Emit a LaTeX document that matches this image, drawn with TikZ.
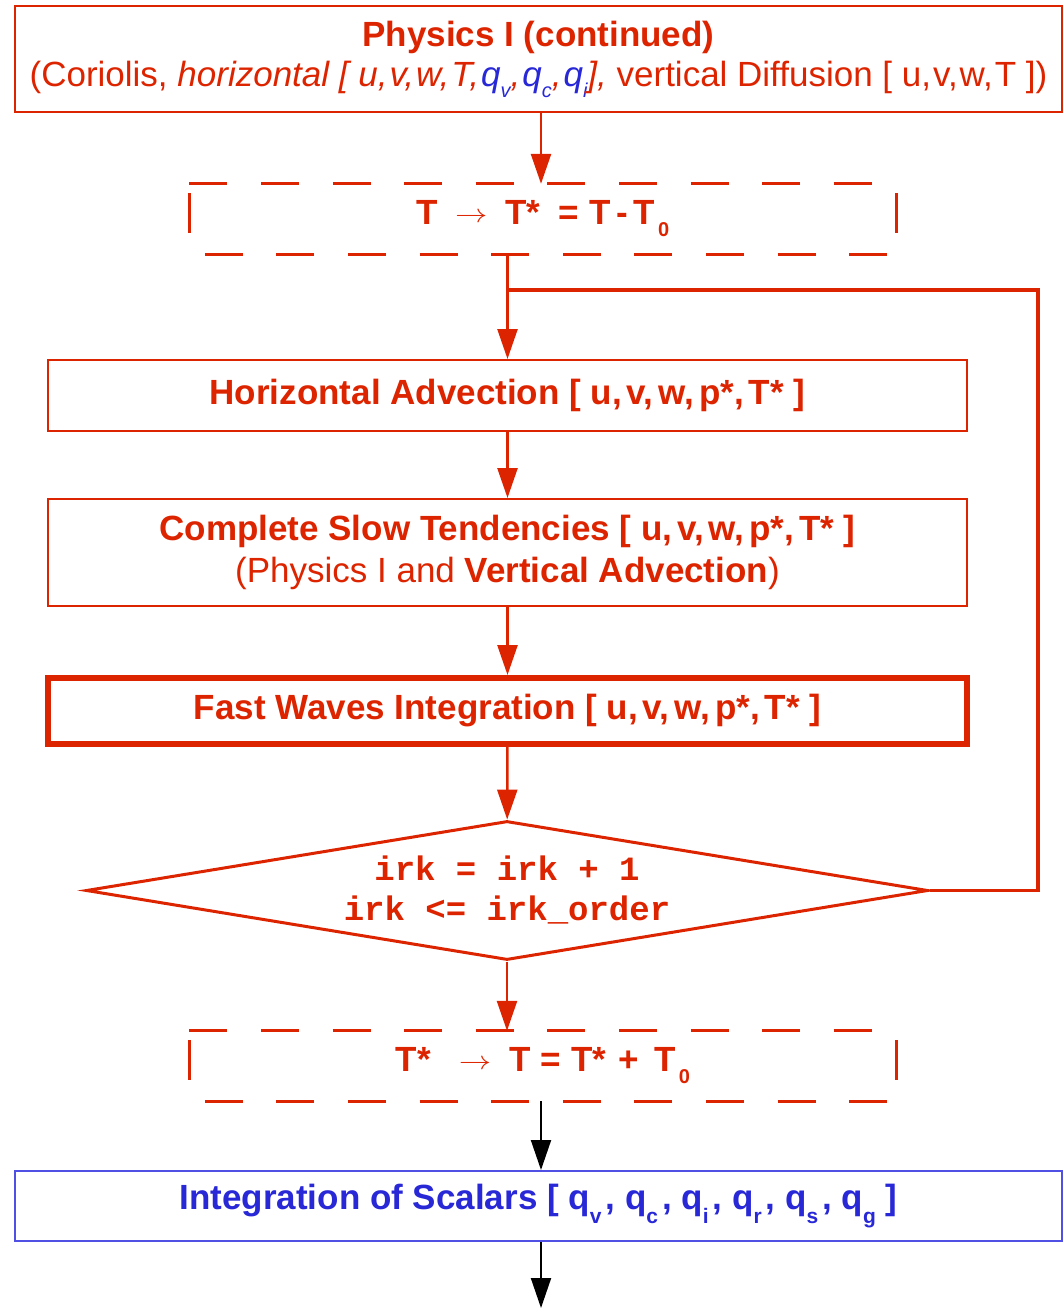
\documentclass[tikz,border=0pt]{standalone}
\usepackage{graphicx}
\usepackage{fontspec}
\setmainfont{Liberation Sans}
\newfontfamily\monof{Liberation Mono}
\usetikzlibrary{arrows.meta,shapes.geometric,calc}
\definecolor{rd}{RGB}{221,36,0}
\definecolor{bl}{RGB}{40,40,215}
\definecolor{blb}{RGB}{80,80,228}
\newcommand\subs[2][-11pt]{\raisebox{#1}{\fontsize{20}{20}\selectfont #2}}
\newcommand\subq[1]{\raisebox{-14pt}{\fontsize{21}{21}\selectfont #1}}
\newcommand\arr{\raisebox{2pt}{\scalebox{1.3}[1.05]{\mdseries$\rightarrow$}}}
\newcommand\cm{,\hspace{5pt}}
\newcommand\cn{,\hspace{2pt}}
\begin{document}
\begin{tikzpicture}[x=1pt,y=-1pt,
  every node/.style={inner sep=0pt, font=\fontsize{35}{40}\selectfont},
  box/.style={draw=rd, line width=2pt, text=rd, align=center, minimum width=919pt},
  conn/.style={draw=rd, line width=2.5pt, -{Triangle[length=30pt,width=20pt]}},
  connk/.style={draw=black, line width=2pt, -{Triangle[length=30pt,width=20pt]}},
  dashline/.style={draw=rd, line width=3pt, dash pattern=on 38pt off 33.6pt},
  sideline/.style={draw=rd, line width=3pt}
]
\useasboundingbox (0,0) rectangle (1064,1311);

% top box
\node[box, minimum width=1047pt, minimum height=106pt] (top) at (538.5,59)
 {\textbf{Physics I (continued)}\\
  (Coriolis, \textit{horizontal [ u\cn v\cn w\cn T\cn\textcolor{bl}{q\subs{v}}\cn\textcolor{bl}{q\subs{c}}\cn\textcolor{bl}{q\subs{i}}],} vertical Diffusion [ u\cn v\cn w\cn T ])};

% dashed box 1
\node[minimum width=707pt, minimum height=70pt, text=rd, font=\fontsize{35}{40}\selectfont\bfseries] (db1) at (543,219)
 {T\hspace{17pt}\arr\hspace{18pt}T*\hspace{18pt}=\hspace{11pt}T\hspace{5pt}-\hspace{6pt}T\hspace{3pt}\subs[-12pt]{0}};
\draw[dashline] (db1.north west) -- (db1.north east);
\draw[dashline] ([xshift=15.5pt]db1.south west) -- (db1.south east);
\draw[sideline] ([yshift=-9pt]db1.north west) -- ([yshift=21pt]db1.south west);
\draw[sideline] ([yshift=-9pt]db1.north east) -- ([yshift=21pt]db1.south east);

% main column
\node[box, minimum height=71pt, font=\fontsize{35}{40}\selectfont\bfseries] (ha) at (507.5,395.5)
 {Horizontal Advection [ u\cm v\cm w\cm p*\cm T* ]};
\node[box, minimum height=107pt, font=\fontsize{35}{42}\selectfont] (cst) at (507.5,552.5)
 {\textbf{Complete Slow Tendencies [ u\cm v\cm w\cm p*\cm T* ]}\\(Physics I and \textbf{Vertical Advection})};
\node[box, line width=6pt, minimum height=66pt, font=\fontsize{35}{40}\selectfont\bfseries] (fw) at (507.5,711)
 {Fast Waves Integration [ u\cm v\cm w\cm p*\cm T* ]};
\node[diamond, draw=rd, line width=3pt, text=rd, align=center, shape aspect=6,
      minimum width=842pt, minimum height=139pt,
      font=\fontsize{34}{40}\selectfont\monof\bfseries] (dia) at (507,890.5)
 {\raisebox{4pt}{irk = irk + 1}\\\raisebox{4pt}{irk <= irk\_order}};

% dashed box 2
\node[minimum width=707pt, minimum height=70pt, text=rd, font=\fontsize{35}{40}\selectfont\bfseries] (db2) at (543,1066)
 {T*\hspace{28pt}\arr\hspace{18pt}T\hspace{10pt}=\hspace{10pt}T*\hspace{12pt}+\hspace{16pt}T\hspace{3pt}\subs[-12pt]{0}};
\draw[dashline] (db2.north west) -- (db2.north east);
\draw[dashline] ([xshift=15.5pt]db2.south west) -- (db2.south east);
\draw[sideline] ([yshift=-9pt]db2.north west) -- ([yshift=21pt]db2.south west);
\draw[sideline] ([yshift=-9pt]db2.north east) -- ([yshift=21pt]db2.south east);

% bottom box
\node[draw=blb, line width=2pt, text=bl, minimum width=1047pt, minimum height=70pt,
      font=\fontsize{35}{40}\selectfont\bfseries] (bot) at (538.5,1206)
 {Integration of Scalars [ q\subq{v}\hspace{4pt}, q\subq{c}\hspace{4pt}, q\subq{i}\hspace{4pt}, q\subq{r}\hspace{4pt}, q\subq{s}\hspace{4pt}, q\subq{g} ]};
\coordinate (endpt) at (541,1308);
\coordinate (lr) at (1038,290);

% connectors
\draw[conn] ([xshift=2.5pt]top.south) -- ([xshift=-2pt]db1.north);
\draw[conn] (db1.south -| ha.north) -- (ha.north);
\draw[draw=rd, line width=3.5pt] (dia.east) -| (lr) -- (lr -| ha.north);
\draw[conn] (ha) -- (cst);
\draw[conn] (cst) -- (fw);
\draw[conn] (fw) -- (dia);
\draw[conn] (dia.south) -- (db2.north -| dia.south);
\draw[connk] ([xshift=-2pt]db2.south) -- ([xshift=2.5pt]bot.north);
\draw[connk] ([xshift=2.5pt]bot.south) -- (endpt);
\end{tikzpicture}
\end{document}
